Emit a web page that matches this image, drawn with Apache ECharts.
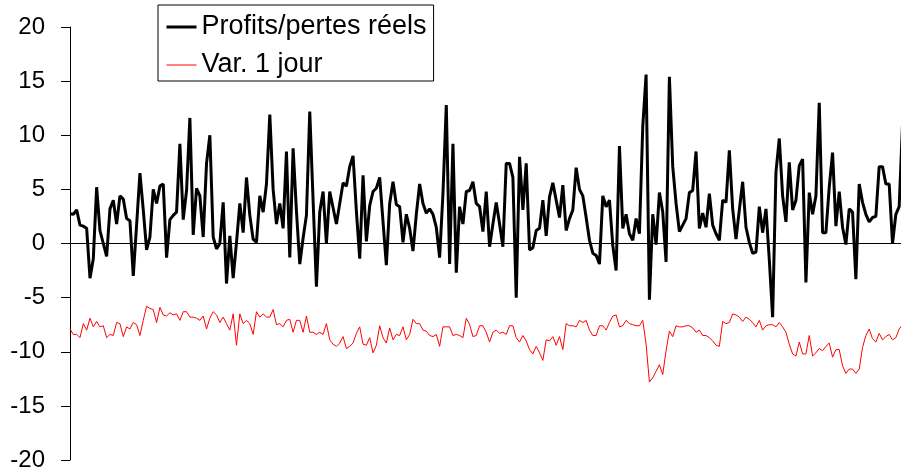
<!DOCTYPE html>
<html>
<head>
<meta charset="utf-8">
<script src="https://cdn.jsdelivr.net/npm/echarts@6/dist/echarts.min.js"></script>
<style>
  html, body { margin: 0; padding: 0; background: #fff; }
  #chart { width: 901px; height: 472px; }
</style>
</head>
<body>
<div id="chart"></div>
<script>
// profits/pertes quotidiens réels
const profits = [
  2.75, 2.7, 3.1, 1.7, 1.6, 1.4, -3.2, -1.4, 5.2, 1.2,
  0, -1.2, 3.2, 4.0, 1.8, 4.4, 4.1, 2.3, 2.1, -3.0,
  1.7, 6.5, 3.1, -0.6, 0.6, 5.0, 3.7, 5.3, 5.5, -1.3,
  2.2, 2.6, 2.9, 9.2, 2.2, 4.9, 11.6, 0.8, 5.1, 4.4,
  0.6, 7.4, 10.0, 0.6, -0.5, 0, 3.8, -3.7, 0.7, -3.2,
  0.1, 3.7, 1.0, 6.1, 2.6, 0.4, 0.1, 4.4, 2.9, 5.5,
  11.9, 5.0, 1.8, 3.7, 1.4, 8.5, -1.3, 8.8, 3.0, -1.9,
  0.5, 2.6, 12.2, 4.0, -4.0, 2.9, 4.8, 0, 4.8, 3.3,
  1.8, 3.7, 5.6, 5.3, 7.1, 8.1, 3.0, -1.4, 6.3, 0.2,
  3.5, 4.8, 5.1, 6.1, 2.0, -2.0, 3.7, 5.7, 3.6, 3.4,
  0.1, 2.7, 1.4, -0.7, 2.7, 5.5, 3.7, 2.8, 3.2, 2.7,
  1.5, -1.3, 4.6, 12.8, -1.9, 9.2, -2.7, 3.4, 1.8, 4.8,
  4.9, 5.7, 3.7, 3.4, 1.1, 4.8, -0.3, 1.8, 3.8, 1.8,
  -0.3, 7.4, 7.4, 6.1, -5.0, 8.0, 3.1, 7.4, -0.6, -0.4,
  1.2, 1.4, 4.0, 0.7, 4.3, 5.6, 4.0, 2.4, 5.4, 1.2,
  2.3, 3.1, 7.0, 5.0, 4.4, 2.4, 0.3, -0.9, -1.1, -1.9,
  4.4, 3.4, 4.0, -0.2, -2.5, 9.0, 1.4, 2.7, 0.9, 0.3,
  2.3, 0.9, 10.8, 15.6, -5.2, 2.7, -0.1, 4.7, 2.9, -1.7,
  15.4, 7.1, 3.7, 1.1, 1.7, 2.3, 4.7, 4.9, 8.5, 1.4,
  2.8, 1.5, 4.6, 1.7, 0.9, 0.3, 4.0, 3.8, 8.6, 3.2,
  0.4, 3.1, 5.7, 1.5, 0.1, -0.9, -0.8, 3.4, 1.0, 3.2,
  -1.5, -6.8, 6.6, 9.7, 4.4, 2.0, 7.5, 3.1, 4.0, 7.2,
  7.8, -3.6, 4.7, 2.7, 4.4, 13.0, 1.0, 1.0, 5.2, 8.4,
  1.6, 4.8, 1.5, -0.1, 3.2, 2.9, -3.3, 5.5, 3.8, 2.7,
  2.0, 2.4, 2.5, 7.1, 7.1, 5.5, 5.5, 0, 2.7, 3.4,
  11
];

// VaR 1 jour
const var1j = [
  -7.9, -8.4, -8.4, -8.7, -7.4, -8.0, -6.9, -7.7, -7.2, -7.7,
  -7.6, -8.7, -8.4, -8.5, -7.3, -7.4, -8.6, -7.7, -7.9, -7.3,
  -7.5, -8.5, -7.1, -5.8, -6.0, -6.1, -7.3, -5.9, -6.6, -6.7,
  -6.4, -6.6, -6.5, -7.1, -6.3, -6.3, -6.8, -6.8, -6.9, -7.1,
  -6.7, -7.9, -6.9, -6.3, -6.6, -7.3, -6.8, -7.4, -8.0, -6.5,
  -9.4, -6.5, -7.4, -7.1, -7.4, -8.4, -6.3, -6.8, -6.5, -6.8,
  -6.8, -6.1, -7.5, -7.4, -7.7, -7.1, -7.0, -8.2, -7.1, -7.1,
  -8.2, -6.7, -8.2, -8.2, -8.4, -8.2, -8.4, -7.4, -8.9, -9.3,
  -9.5, -9.2, -8.6, -9.7, -9.5, -9.2, -8.3, -7.7, -9.3, -9.4,
  -8.7, -10.1, -9.4, -7.6, -8.7, -9.2, -7.8, -8.9, -8.4, -8.5,
  -7.7, -8.9, -8.4, -7.0, -7.4, -7.4, -8.0, -8.1, -8.5, -8.6,
  -8.4, -9.5, -7.7, -7.7, -7.7, -8.5, -8.4, -8.5, -8.7, -6.9,
  -7.5, -8.6, -8.5, -7.6, -7.6, -8.2, -9.1, -8.2, -8.0, -8.3,
  -8.2, -8.4, -7.6, -7.6, -8.7, -9.1, -8.5, -9.0, -9.8, -10.2,
  -9.5, -10.1, -10.8, -8.9, -9.0, -8.6, -9.4, -8.6, -9.8, -7.4,
  -7.6, -7.6, -7.7, -7.1, -7.3, -7.1, -8.0, -8.5, -8.5, -7.6,
  -7.6, -8.0, -7.3, -6.7, -6.6, -7.7, -7.6, -7.1, -7.4, -7.5,
  -7.6, -7.6, -7.1, -9.3, -12.8, -12.4, -11.8, -11.2, -12.1, -9.9,
  -8.1, -8.6, -7.6, -7.7, -7.7, -7.6, -7.6, -7.8, -8.2, -8.0,
  -8.5, -8.5, -8.7, -9.0, -9.4, -9.5, -7.2, -7.4, -7.3, -6.5,
  -6.6, -6.8, -7.2, -6.8, -7.0, -7.3, -7.7, -7.1, -8.0, -7.6,
  -7.5, -7.5, -7.7, -7.3, -7.7, -8.2, -9.3, -10.2, -10.4, -9.1,
  -10.2, -10.2, -8.5, -10.4, -10.1, -9.7, -9.9, -9.5, -9.2, -10.5,
  -9.8, -9.8, -11.3, -12.0, -11.6, -11.6, -12.0, -11.6, -9.6, -8.5,
  -7.9, -8.8, -9.1, -8.3, -8.9, -8.6, -8.4, -8.9, -8.7, -7.9,
  -7.5
];

// jours (index 0..250) ; la fenêtre visible s'arrête un peu avant le dernier jour
const days = profits.map((v, i) => i);
const dayMax = 249.55;
const yTicks = { min: -20, max: 20, step: 5 };

const chart = echarts.init(document.getElementById('chart'), null, { renderer: 'canvas' });

const font = '"Liberation Sans", Arial, sans-serif';

chart.setOption({
  animation: false,
  backgroundColor: '#fff',
  grid: { left: 70, top: 27, bottom: 12, right: 0 },
  legend: {
    orient: 'vertical',
    left: 158,
    top: 5,
    padding: [8, 7, 2, 7],
    itemGap: 10,
    itemWidth: 30,
    itemHeight: 14,
    borderColor: '#000',
    borderWidth: 1,
    borderRadius: 0,
    backgroundColor: '#fff',
    itemStyle: { opacity: 0 },
    textStyle: { fontFamily: font, fontSize: 27, color: '#000', lineHeight: 28 },
    data: [
      { name: 'Profits/pertes réels', lineStyle: { width: 3, color: '#000' } },
      { name: 'Var. 1 jour', lineStyle: { width: 1, color: '#ff0000' } }
    ]
  },
  xAxis: {
    type: 'value',
    min: 0,
    max: dayMax,
    axisLine: { onZero: true, lineStyle: { color: '#000', width: 1 } },
    axisTick: { show: false },
    axisLabel: { show: false },
    splitLine: { show: false }
  },
  yAxis: {
    type: 'value',
    min: yTicks.min,
    max: yTicks.max,
    interval: yTicks.step,
    axisLine: { show: true, onZero: false, lineStyle: { color: '#000', width: 1 } },
    axisTick: { show: true, length: 9, lineStyle: { color: '#000' } },
    axisLabel: { margin: 25, fontFamily: font, fontSize: 24, color: '#000' },
    splitLine: { show: false }
  },
  series: [
    {
      name: 'Profits/pertes réels',
      type: 'line',
      data: days.map(d => [d, profits[d]]),
      symbol: 'none',
      clip: true,
      lineStyle: { color: '#000', width: 3 },
      itemStyle: { color: '#000' },
      z: 3
    },
    {
      name: 'Var. 1 jour',
      type: 'line',
      data: days.map(d => [d, var1j[d]]),
      symbol: 'none',
      clip: true,
      lineStyle: { color: '#ff0000', width: 1 },
      itemStyle: { color: '#ff0000' },
      z: 2
    }
  ]
});
</script>
</body>
</html>
